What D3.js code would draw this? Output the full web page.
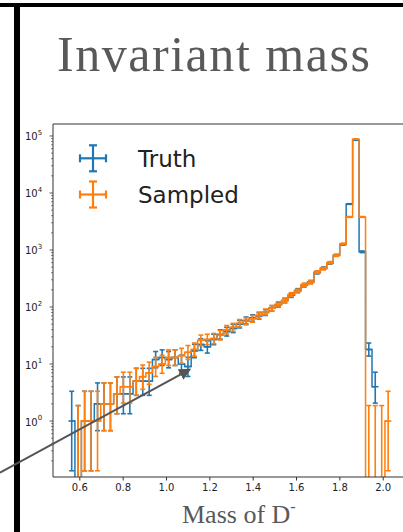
<!DOCTYPE html>
<html>
<head>
<meta charset="utf-8">
<script src="https://cdn.jsdelivr.net/npm/d3@7"></script>
<style>
  html, body { margin: 0; padding: 0; background: #fff; }
  svg { display: block; }
</style>
</head>
<body>
<svg id="chart" width="403" height="532"></svg>
<script>
// Histogram of the D- invariant mass: 50 bins between 0.55 and 2.04
const binLo = 0.55, binHi = 2.04, nBins = 50;
const binCenters = d3.range(nBins).map(i => binLo + (i + 0.5) * (binHi - binLo) / nBins);

const truthCounts = [
  1, 0, 1, 1, 2, 2, 2, 3, 3, 3,
  5, 5, 5, 12, 13, 12, 13, 10, 9, 17,
  22, 20, 27, 33, 37, 42, 50, 58, 64, 70,
  80, 95, 110, 130, 160, 195, 240, 275, 400, 480,
  590, 810, 1250, 6400, 85000, 930, 18, 4, null, null
];
const sampledCounts = [
  null, 0, 1, 1, 1, 2, 2, 3, 4, 4,
  5, 6, 7, 9, 10, 13, 13, 14, 16, 18,
  26, 27, 28, 32, 40, 44, 52, 56, 62, 72,
  82, 95, 112, 130, 165, 190, 245, 270, 410, 470,
  600, 800, 1280, 3800, 88000, 3800, 0, 0, 0, 1
];

const seriesNames = ["Truth", "Sampled"];
const seriesColors = ["#1f77b4", "#ff7f0e"];
const xTickValues = [0.6, 0.8, 1.0, 1.2, 1.4, 1.6, 1.8, 2.0];
const yTickExponents = [0, 1, 2, 3, 4, 5];

const svg = d3.select("#chart");

// slide frame
svg.append("rect").attr("x", 0).attr("y", 3).attr("width", 403).attr("height", 4).attr("fill", "#000");
svg.append("rect").attr("x", 14).attr("y", 5).attr("width", 6).attr("height", 527).attr("fill", "#000");

svg.append("text")
  .attr("x", 57).attr("y", 70.5)
  .attr("font-family", "Liberation Serif, serif")
  .attr("font-size", 50)
  .attr("fill", "#595959")
  .attr("textLength", 313)
  .text("Invariant mass");

// plot area
const L = 53, T = 124, R = 403, B = 477;
const x = d3.scaleLinear().domain([0.4786, 2.0936]).range([L, R]);
const y = d3.scaleLog().domain([Math.pow(10, -0.982), Math.pow(10, 5.21)]).range([B, T]);
const bw = (binHi - binLo) / nBins;

svg.append("defs").append("clipPath").attr("id", "plotclip")
  .append("rect").attr("x", L).attr("y", T).attr("width", R - L).attr("height", B - T);

const yClip = v => (v > 0 ? y(v) : B + 20);

// Poisson-style uncertainty band for a count
const errLow = n => (n >= 1 ? n - Math.sqrt(n - 0.25) : 0);
const errHigh = n => n + Math.sqrt(n + 0.75) + 1;

const plot = svg.append("g").attr("clip-path", "url(#plotclip)");

[truthCounts, sampledCounts].forEach((counts, s) => {
  const pts = binCenters.map((c, i) => ({ c, n: counts[i] })).filter(d => d.n !== null);
  const color = seriesColors[s];
  const g = plot.append("g");
  g.append("path")
    .datum(pts)
    .attr("fill", "none")
    .attr("stroke", color)
    .attr("stroke-width", 1.5)
    .attr("d", d3.line().x(d => x(d.c)).y(d => yClip(d.n)).curve(d3.curveStep));
  const eb = g.selectAll("g.eb").data(pts).join("g").attr("class", "eb")
    .attr("stroke", color).attr("stroke-width", 1.6);
  eb.append("line")
    .attr("x1", d => x(d.c)).attr("x2", d => x(d.c))
    .attr("y1", d => yClip(errLow(d.n))).attr("y2", d => y(errHigh(d.n)));
  eb.append("line")
    .attr("x1", d => x(d.c) - 2.5).attr("x2", d => x(d.c) + 2.5)
    .attr("y1", d => y(errHigh(d.n))).attr("y2", d => y(errHigh(d.n)));
  eb.filter(d => d.n >= 1).append("line")
    .attr("x1", d => x(d.c) - 2.5).attr("x2", d => x(d.c) + 2.5)
    .attr("y1", d => y(errLow(d.n))).attr("y2", d => y(errLow(d.n)));
  eb.filter(d => d.n >= 1).append("line")
    .attr("x1", d => x(d.c - bw / 2)).attr("x2", d => x(d.c + bw / 2))
    .attr("y1", d => y(d.n)).attr("y2", d => y(d.n));
});

// axes
const xAxis = d3.axisBottom(x).tickValues(xTickValues).tickFormat(d3.format(".1f")).tickSize(3.5).tickPadding(3);
const gx = svg.append("g").attr("transform", `translate(0,${B})`).call(xAxis);
gx.select(".domain").remove();
gx.selectAll("line").attr("stroke", "#333");
gx.selectAll("text").attr("font-family", "DejaVu Sans").attr("font-size", 10).attr("fill", "#222");

const minorTicks = [];
for (let e = -1; e <= 5; e++) for (let m = 2; m <= 9; m++) {
  const v = m * Math.pow(10, e);
  if (v > y.domain()[0] && v < y.domain()[1]) minorTicks.push(v);
}
const gy = svg.append("g");
gy.selectAll("line.minor").data(minorTicks).join("line")
  .attr("x1", L - 2).attr("x2", L).attr("y1", d => y(d)).attr("y2", d => y(d))
  .attr("stroke", "#333").attr("stroke-width", 0.6);
gy.selectAll("line.major").data(yTickExponents).join("line")
  .attr("x1", L - 3.5).attr("x2", L).attr("y1", d => y(Math.pow(10, d))).attr("y2", d => y(Math.pow(10, d)))
  .attr("stroke", "#333").attr("stroke-width", 0.8);
const ylab = gy.selectAll("text").data(yTickExponents).join("text")
  .attr("x", 25).attr("y", d => y(Math.pow(10, d)) + 4.5)
  .attr("font-family", "DejaVu Sans").attr("font-size", 10).attr("fill", "#222");
ylab.append("tspan").text("10");
ylab.append("tspan").attr("dy", -5.5).attr("font-size", 7).text(d => d);

// spines
svg.append("path").attr("d", `M${L},${B}V${T}H${R}`).attr("fill", "none").attr("stroke", "#333").attr("stroke-width", 1);
svg.append("line").attr("x1", L).attr("x2", R).attr("y1", B).attr("y2", B).attr("stroke", "#333").attr("stroke-width", 1);

// legend
const leg = svg.append("g");
[0, 1].forEach(s => {
  const cy = s === 0 ? 158.3 : 194.5;
  const g = leg.append("g").attr("stroke", seriesColors[s]).attr("stroke-width", 2.2);
  g.append("line").attr("x1", 80).attr("x2", 106).attr("y1", cy).attr("y2", cy);
  g.append("line").attr("x1", 93).attr("x2", 93).attr("y1", cy - 13).attr("y2", cy + 13);
  g.append("line").attr("x1", 89).attr("x2", 97).attr("y1", cy - 13).attr("y2", cy - 13);
  g.append("line").attr("x1", 89).attr("x2", 97).attr("y1", cy + 13).attr("y2", cy + 13);
  g.append("line").attr("x1", 80).attr("x2", 80).attr("y1", cy - 4).attr("y2", cy + 4);
  g.append("line").attr("x1", 106).attr("x2", 106).attr("y1", cy - 4).attr("y2", cy + 4);
  leg.append("text").attr("x", 138).attr("y", cy + 8.3)
    .attr("font-family", "DejaVu Sans").attr("font-size", 23).attr("fill", "#222")
    .text(seriesNames[s]);
});

// x label
const xl = svg.append("text").attr("x", 182).attr("y", 523)
  .attr("font-family", "Liberation Serif, serif").attr("font-size", 26).attr("fill", "#595959");
xl.append("tspan").text("Mass of D");
xl.append("tspan").attr("dy", -11).attr("font-size", 16).text("-");

// annotation arrow
svg.append("defs").append("marker").attr("id", "ah")
  .attr("viewBox", "0 0 10 10").attr("refX", 9).attr("refY", 5)
  .attr("markerWidth", 6).attr("markerHeight", 6).attr("orient", "auto")
  .attr("markerUnits", "strokeWidth")
  .append("path").attr("d", "M0,0L10,5L0,10z").attr("fill", "#555");
svg.append("line").attr("x1", 0).attr("y1", 472.7).attr("x2", 190).attr("y2", 369.3)
  .attr("stroke", "#555").attr("stroke-width", 2).attr("marker-end", "url(#ah)");
</script>
</body>
</html>
